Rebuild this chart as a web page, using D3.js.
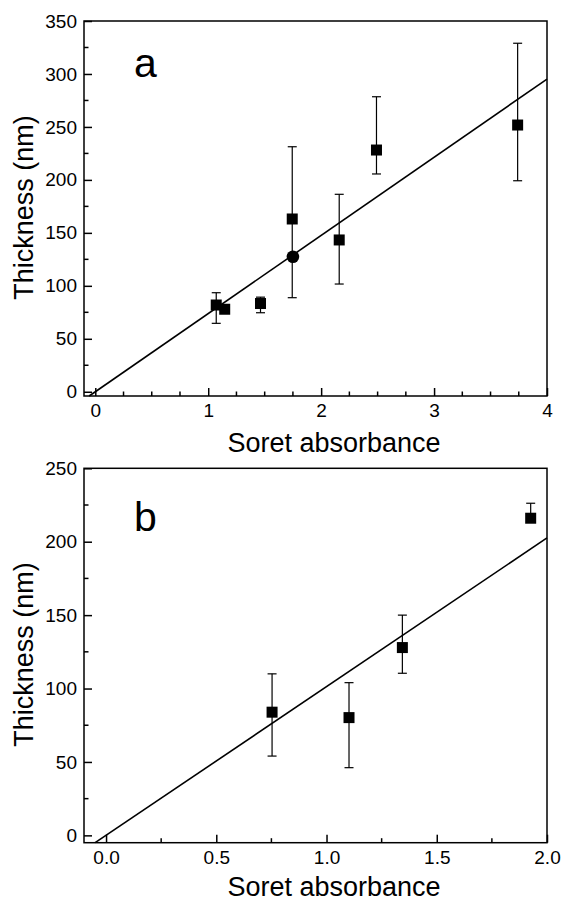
<!DOCTYPE html>
<html>
<head>
<meta charset="utf-8">
<script src="https://cdn.jsdelivr.net/npm/d3@7/dist/d3.min.js"></script>
<style>
  html, body { margin: 0; padding: 0; background: #fff; }
  svg { display: block; font-family: "Liberation Sans", Arial, sans-serif; }
</style>
</head>
<body>
<svg id="chart" width="565" height="903"></svg>
<script>
// ---------- Data ----------
// Panel a
const aX      = [1.071, 1.146, 1.463, 1.744, 2.16, 2.49, 3.74];
const aY      = [81.9, 77.9, 83.3, 163.1, 143.3, 228.2, 251.8];
const aErrLo  = [64.6, 77.9, 74.6, 88.8, 101.7, 205.6, 199.2];
const aErrHi  = [93.5, 77.9, 89.3, 231.3, 186.4, 278.5, 329.0];
const aCircleX = [1.75];
const aCircleY = [127.5];
const aFit = [73.8, 0];           // slope, intercept
const aXTicks = [0, 1, 2, 3, 4];
const aYTicks = [0, 50, 100, 150, 200, 250, 300, 350];

// Panel b
const bX      = [0.753, 1.102, 1.344, 1.926];
const bY      = [83.9, 80.2, 127.9, 216.0];
const bErrLo  = [54.0, 46.1, 110.4, 216.0];
const bErrHi  = [110.0, 104.0, 150.0, 226.2];
const bFit = [101.3, 0];
const bXTicks = [0.0, 0.5, 1.0, 1.5, 2.0];
const bYTicks = [0, 50, 100, 150, 200, 250];

const xTitle = "Soret absorbance";
const yTitle = "Thickness (nm)";

// ---------- Drawing ----------
const svg = d3.select("#chart");

function panel(cfg) {
  const g = svg.append("g");
  const x = d3.scaleLinear().domain(cfg.xDomain).range([84, 547]);
  const y = d3.scaleLinear().domain(cfg.yDomain).range([cfg.bottom, cfg.top]);

  // minor ticks
  const xMinor = d3.range(0, cfg.xDomain[1] + 1e-9, 0.25);
  const yMinor = d3.range(0, cfg.yDomain[1] + 1e-9, 25);

  // x axis (ticks inward)
  const xAxis = d3.axisBottom(x).tickValues(cfg.xTicks).tickFormat(cfg.xFmt)
    .tickSizeInner(-8).tickSizeOuter(0).tickPadding(8);
  const gx = g.append("g").attr("transform", `translate(0,${cfg.bottom})`).call(xAxis);
  gx.select(".domain").remove();
  gx.selectAll("line").attr("stroke", "#000").attr("stroke-width", 1.5);
  gx.selectAll("text").attr("font-size", 19).attr("fill", "#000");

  g.append("g").selectAll("line").data(xMinor.filter(v => !cfg.xTicks.some(t => Math.abs(t - v) < 1e-6)))
    .join("line")
    .attr("x1", d => x(d)).attr("x2", d => x(d))
    .attr("y1", cfg.bottom).attr("y2", cfg.bottom - 4.5)
    .attr("stroke", "#000").attr("stroke-width", 1.5);

  // y axis
  const yAxis = d3.axisLeft(y).tickValues(cfg.yTicks)
    .tickSizeInner(-8).tickSizeOuter(0).tickPadding(7);
  const gy = g.append("g").attr("transform", `translate(84,0)`).call(yAxis);
  gy.select(".domain").remove();
  gy.selectAll("line").attr("stroke", "#000").attr("stroke-width", 1.5);
  gy.selectAll("text").attr("font-size", 19).attr("fill", "#000");

  g.append("g").selectAll("line").data(yMinor.filter(v => !cfg.yTicks.includes(v)))
    .join("line")
    .attr("x1", 84).attr("x2", 88.5)
    .attr("y1", d => y(d)).attr("y2", d => y(d))
    .attr("stroke", "#000").attr("stroke-width", 1.5);

  // frame
  g.append("rect")
    .attr("x", 84).attr("y", cfg.top)
    .attr("width", 547 - 84).attr("height", cfg.bottom - cfg.top)
    .attr("fill", "none").attr("stroke", "#000").attr("stroke-width", 1.5);

  // fit line: from where it crosses bottom of domain to right edge
  const [m, c] = cfg.fit;
  const x0 = (cfg.yDomain[0] - c) / m;
  const x1 = cfg.xDomain[1];
  g.append("line")
    .attr("x1", x(x0)).attr("y1", y(m * x0 + c))
    .attr("x2", x(x1)).attr("y2", y(m * x1 + c))
    .attr("stroke", "#000").attr("stroke-width", 1.6);

  // error bars
  const idx = d3.range(cfg.px.length);
  const eb = g.append("g").attr("stroke", "#000").attr("stroke-width", 1.2);
  idx.forEach(i => {
    const xi = x(cfg.px[i]);
    const lo = cfg.lo[i], hi = cfg.hi[i];
    if (hi > lo) {
      eb.append("line").attr("x1", xi).attr("x2", xi).attr("y1", y(lo)).attr("y2", y(hi));
    }
    if (hi > cfg.py[i]) {
      eb.append("line").attr("x1", xi - 4.5).attr("x2", xi + 4.5).attr("y1", y(hi)).attr("y2", y(hi));
    }
    if (lo < cfg.py[i]) {
      eb.append("line").attr("x1", xi - 4.5).attr("x2", xi + 4.5).attr("y1", y(lo)).attr("y2", y(lo));
    }
  });

  // square markers
  g.append("g").selectAll("rect").data(idx).join("rect")
    .attr("x", i => x(cfg.px[i]) - 5.5).attr("y", i => y(cfg.py[i]) - 5.5)
    .attr("width", 11).attr("height", 11).attr("fill", "#000");

  // circle markers
  if (cfg.cx) {
    g.append("g").selectAll("circle").data(d3.range(cfg.cx.length)).join("circle")
      .attr("cx", i => x(cfg.cx[i])).attr("cy", i => y(cfg.cy[i]))
      .attr("r", 6.3).attr("fill", "#000");
  }

  // panel letter
  g.append("text").attr("x", 134).attr("y", cfg.letterY)
    .attr("font-size", 41).attr("fill", "#000").text(cfg.letter);

  // axis titles
  g.append("text").attr("x", 334).attr("y", cfg.xTitleY)
    .attr("text-anchor", "middle").attr("font-size", 27).attr("fill", "#000").text(xTitle);
  g.append("text")
    .attr("transform", `translate(33,${(cfg.top + cfg.bottom) / 2 - 1}) rotate(-90)`)
    .attr("text-anchor", "middle").attr("font-size", 27).attr("fill", "#000").text(yTitle);
}

panel({
  xDomain: [-0.1, 4], yDomain: [-4, 350], top: 21, bottom: 396,
  xTicks: aXTicks, yTicks: aYTicks, xFmt: d3.format("d"),
  px: aX, py: aY, lo: aErrLo, hi: aErrHi, cx: aCircleX, cy: aCircleY,
  fit: aFit, letter: "a", letterY: 77, xTitleY: 452
});

panel({
  xDomain: [-0.1, 2.0], yDomain: [-5, 250], top: 468.3, bottom: 842.7,
  xTicks: bXTicks, yTicks: bYTicks, xFmt: d3.format(".1f"),
  px: bX, py: bY, lo: bErrLo, hi: bErrHi,
  fit: bFit, letter: "b", letterY: 531, xTitleY: 896
});
</script>
</body>
</html>
